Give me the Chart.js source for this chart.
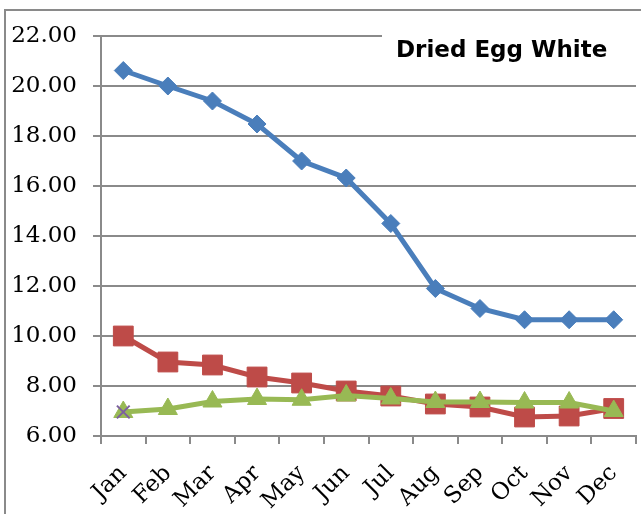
<!DOCTYPE html>
<html>
<head>
<meta charset="utf-8">
<script src="https://cdn.jsdelivr.net/npm/chart.js@4/dist/chart.umd.min.js"></script>
<style>
  html, body { margin: 0; padding: 0; background: #fff; }
  #wrap { width: 641px; height: 514px; position: relative; }
</style>
</head>
<body>
<div id="wrap"><canvas id="egg-chart"></canvas></div>
<script>
// --- Data ---
const months = ['Jan', 'Feb', 'Mar', 'Apr', 'May', 'Jun', 'Jul', 'Aug', 'Sep', 'Oct', 'Nov', 'Dec'];
const blueSeries = [20.62, 20.0, 19.4, 18.48, 17.0, 16.32, 14.5, 11.9, 11.1, 10.65, 10.65, 10.65];
const redSeries = [10.0, 8.96, 8.84, 8.36, 8.12, 7.8, 7.6, 7.28, 7.16, 6.76, 6.8, 7.1];
const greenSeries = [6.96, 7.08, 7.38, 7.48, 7.45, 7.62, 7.5, 7.36, 7.36, 7.34, 7.34, 7.0];
const purpleSeries = [6.96, null, null, null, null, null, null, null, null, null, null, null];
const yMin = 6;
const yMax = 22;
const yStep = 2;
const chartTitle = 'Dried Egg White';

// --- Styles ---
const GRID = '#8a8a8a';
const serif = "'DejaVu Serif', 'Liberation Serif', serif";

// frame on left/top + title box in the corner
const framePlugin = {
    id: 'frame',
    beforeDraw(chart) {
        const ctx = chart.ctx;
        ctx.save();
        ctx.strokeStyle = GRID;
        ctx.lineWidth = 2;
        ctx.beginPath();
        ctx.moveTo(5, chart.height);
        ctx.lineTo(5, 10);
        ctx.lineTo(chart.width, 10);
        ctx.stroke();
        ctx.restore();
    },
    afterDraw(chart) {
        const ctx = chart.ctx;
        ctx.save();
        ctx.fillStyle = '#fff';
        ctx.fillRect(382, 26, chart.width - 382, 44);
        ctx.fillStyle = '#000';
        ctx.font = "bold 23px 'DejaVu Sans', sans-serif";
        ctx.textBaseline = 'middle';
        ctx.textAlign = 'left';
        ctx.fillText(chartTitle, 396, 51);
        ctx.restore();
    }
};

// later series sit on top (lower order = drawn last)
function lineSet(label, data, color, style, radius, order) {
    return {
        label: label,
        data: data,
        order: order,
        borderColor: color,
        backgroundColor: color,
        borderWidth: 5,
        pointStyle: style,
        pointRadius: radius,
        pointBorderWidth: 1,
        pointBackgroundColor: color,
        pointBorderColor: color,
        tension: 0,
        fill: false
    };
}

const purple = lineSet('Series 4', purpleSeries, '#7d60a0', 'crossRot', 9, 0);
purple.pointBorderWidth = 2;
purple.pointBackgroundColor = 'rgba(0,0,0,0)';

new Chart(document.getElementById('egg-chart'), {
    type: 'line',
    data: {
        labels: months,
        datasets: [
            lineSet('Series 1', blueSeries, '#4a7ebb', 'rectRot', 9, 3),
            lineSet('Series 2', redSeries, '#be4b48', 'rect', 14, 2),
            lineSet('Series 3', greenSeries, '#98b954', 'triangle', 11, 1),
            purple
        ]
    },
    options: {
        responsive: true,
        maintainAspectRatio: false,
        animation: false,
        layout: {
            autoPadding: false,
            padding: { top: 36, right: 5, left: 0, bottom: 0 }
        },
        plugins: {
            legend: { display: false },
            tooltip: { enabled: false }
        },
        scales: {
            x: {
                offset: true,
                afterFit(scale) {
                    scale.height = 78;
                    scale.paddingLeft = 0;
                    scale.paddingRight = 0;
                },
                grid: {
                    offset: true,
                    drawOnChartArea: false,
                    drawTicks: true,
                    tickLength: 8,
                    color: GRID,
                    lineWidth: 2
                },
                border: { color: GRID, width: 2 },
                ticks: {
                    autoSkip: false,
                    color: '#000',
                    font: { family: serif, size: 23 },
                    minRotation: 45,
                    maxRotation: 45,
                    padding: 16
                }
            },
            y: {
                min: yMin,
                max: yMax,
                afterFit(scale) { scale.width = 101; },
                grid: {
                    color: GRID,
                    lineWidth: 2,
                    tickLength: 8
                },
                border: { color: GRID, width: 2 },
                ticks: {
                    stepSize: yStep,
                    color: '#000',
                    padding: 16,
                    font: { family: serif, size: 23 },
                    callback: (v) => Number(v).toFixed(2)
                }
            }
        }
    },
    plugins: [framePlugin]
});
</script>
</body>
</html>
